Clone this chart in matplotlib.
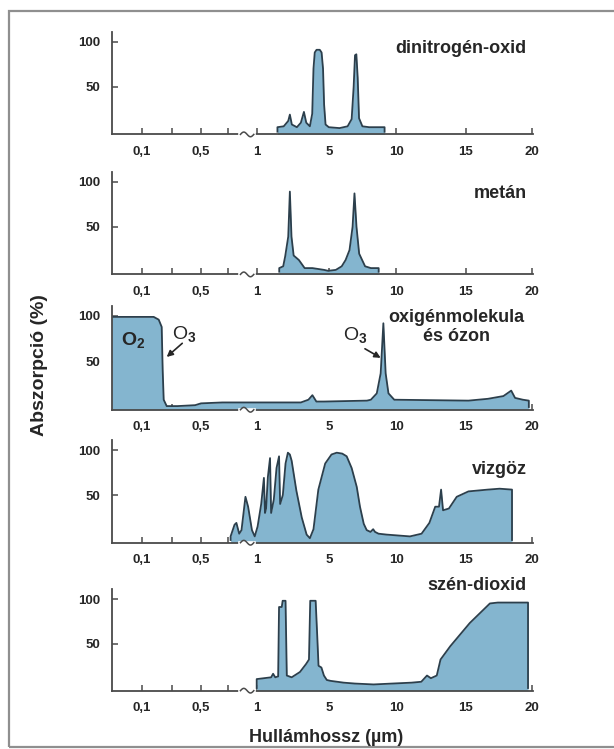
import numpy as np
import matplotlib
matplotlib.use("Agg")
import matplotlib.pyplot as plt
from matplotlib.patches import Rectangle

plt.rcParams['font.family'] = ['Liberation Sans', 'DejaVu Sans']
plt.rcParams['font.weight'] = 'bold'
plt.rcParams['mathtext.fontset'] = 'custom'
plt.rcParams['mathtext.rm'] = 'Liberation Sans'
plt.rcParams['mathtext.it'] = 'Liberation Sans:italic'
plt.rcParams['mathtext.bf'] = 'Liberation Sans:bold'

# ---------------- data ----------------
tick_values = [0.1, 0.25, 0.5, 0.75, 1, 5, 10, 15, 20]
tick_labels = ['0,1', '', '0,5', '', '1', '5', '10', '15', '20']
ytick_values = [50, 100]
ytick_labels = ['50', '100']

n2o_wl = [2.15, 2.15, 2.5, 2.75, 2.84, 2.95, 3.23, 3.45, 3.62, 3.75, 3.95, 4.08, 4.15, 4.22,
          4.32, 4.5, 4.6, 4.68, 4.74, 4.82, 5.0, 5.8, 6.4, 6.7, 6.85, 6.95, 7.05, 7.15, 7.25,
          7.5, 8.0, 9.15, 9.15]
n2o_abs = [0, 5, 6, 12, 19, 8, 5, 10, 22, 10, 6, 20, 70, 88,
           91, 91, 88, 70, 30, 8, 5, 4, 6, 14, 50, 85, 86, 60, 15,
           6, 5, 5, 0]

ch4_wl = [2.25, 2.25, 2.47, 2.58, 2.75, 2.84, 2.93, 3.05, 3.34, 3.66, 4.09, 4.74, 4.96,
          5.52, 5.96, 6.25, 6.54, 6.77, 6.91, 7.06, 7.26, 7.70, 8.13, 8.71, 8.71]
ch4_abs = [0, 4, 6, 17, 39, 89, 39, 18, 13, 4, 4, 2, 1,
           2, 6, 13, 24, 50, 87, 50, 20, 6, 4, 4, 0]

o2o3_wl = [0.05, 0.16, 0.185, 0.2, 0.205, 0.21, 0.225, 0.3, 0.45, 0.5, 0.7, 3.45, 3.87,
           4.09, 4.31, 4.74, 7.84, 8.13, 8.57, 8.86, 9.06, 9.23, 9.44, 9.87, 15.2, 16.67,
           17.84, 18.43, 18.72, 19.31, 19.76, 19.76]
o2o3_abs = [99, 99, 96, 88, 40, 8, 1, 1, 2, 4, 5, 5, 8,
            13, 6, 6, 7, 8, 15, 37, 92, 37, 15, 8, 7, 9,
            12, 18, 10, 8, 7, 0]

h2o_wl = [0.775, 0.775, 0.809, 0.825, 0.849, 0.869, 0.903, 0.926, 0.959, 0.983, 1.05, 1.25,
          1.40, 1.46, 1.52, 1.62, 1.74, 1.80, 1.95, 2.10, 2.24, 2.30, 2.45, 2.60, 2.73,
          2.84, 2.94, 3.2, 3.5, 3.77, 3.95, 4.15, 4.42, 4.8, 5.2, 5.59, 6.0, 6.33, 6.7,
          7.08, 7.32, 7.6, 7.82, 8.1, 8.3, 8.44, 8.7, 9.3, 11.0, 11.83, 12.39, 12.81,
          13.08, 13.23, 13.37, 13.79, 14.35, 15.2, 16.67, 17.55, 18.49, 18.49]
h2o_abs = [0, 4, 17, 19, 7, 11, 48, 37, 11, 4, 15, 40,
           69, 30, 35, 70, 91, 30, 45, 80, 93, 40, 50, 85, 97,
           95, 88, 55, 25, 6, 2, 12, 56, 85, 95, 97, 96, 93, 80,
           59, 37, 18, 11, 9, 12, 9, 7, 6, 4, 7, 19, 37,
           37, 56, 33, 35, 48, 54, 56, 57, 56, 0]

co2_wl = [1.0, 1.0, 1.80, 1.91, 2.03, 2.19, 2.24, 2.39, 2.44, 2.60, 2.67, 2.94, 3.40,
          3.74, 3.90, 3.97, 4.27, 4.36, 4.43, 4.59, 4.73, 4.89, 5.14, 6.11, 6.94, 8.33,
          9.72, 11.11, 11.81, 12.22, 12.5, 12.92, 13.19, 13.89, 15.30, 16.82, 17.42,
          19.7, 19.7]
co2_abs = [0, 10, 12, 16, 12, 13, 91, 91, 98, 98, 14, 12, 18,
           27, 32, 98, 98, 58, 25, 23, 14, 9, 8, 6, 5, 4,
           5, 6, 7, 14, 11, 14, 32, 47, 73, 95, 96,
           96, 0]

panel_titles = ['dinitrogén-oxid', 'metán', 'oxigénmolekula\nés ózon', 'vizgöz', 'szén-dioxid']
series = [(n2o_wl, n2o_abs), (ch4_wl, ch4_abs), (o2o3_wl, o2o3_abs),
          (h2o_wl, h2o_abs), (co2_wl, co2_abs)]

# ---------------- scale (broken, piecewise axis) ----------------
scale_wl = [0.05, 0.1, 0.25, 0.5, 0.75, 1, 5, 10, 15, 20, 21]
scale_pos = [111.7, 141.7, 171.7, 201, 227.7, 256.7, 328.8, 396, 465.8, 532, 545.2]


def fwd(x):
    return np.interp(np.asarray(x, dtype=float), scale_wl, scale_pos)


def inv(p):
    return np.interp(np.asarray(p, dtype=float), scale_pos, scale_wl)


# ---------------- layout ----------------
W, H = 614, 749
LEFT, RIGHT = 111.7, 533
panel_zero = [131.7, 271.7, 407, 540, 688]
panel_full = [41.7, 181.7, 316, 450, 599]
YMIN, YMAX = -3, 111

FILL = '#84b5cf'
EDGE = '#2c3f4c'
AX = '#4a4a4a'
TXT = '#262626'

title_pos = [(19.6, 92, 'right'), (19.6, 87, 'right'), (14.3, 88, 'center'),
             (19.6, 78, 'right'), (19.6, 115, 'right')]

fig = plt.figure(figsize=(W / 100, H / 100), dpi=100)
fig.patch.set_facecolor('white')

xmax = float(inv(RIGHT))

for i, (wl, ab) in enumerate(series):
    z, t = panel_zero[i], panel_full[i]
    s = (z - t) / 100.0
    bottom = z - YMIN * s
    top = z - YMAX * s
    ax = fig.add_axes([LEFT / W, 1 - bottom / H, (RIGHT - LEFT) / W, (bottom - top) / H])
    ax.set_xscale('function', functions=(fwd, inv))
    ax.set_xlim(0.05, xmax)
    ax.set_ylim(YMIN, YMAX)
    ax.patch.set_alpha(0)

    ax.fill_between(wl, ab, YMIN, color=FILL, lw=0, zorder=2)
    ax.plot(wl, ab, color=EDGE, lw=1.3, zorder=3, solid_joinstyle='round')

    for sp in ['top', 'right']:
        ax.spines[sp].set_visible(False)
    for sp in ['left', 'bottom']:
        ax.spines[sp].set_color(AX)
        ax.spines[sp].set_linewidth(1.3)
        ax.spines[sp].set_zorder(4)

    ax.set_xticks(tick_values)
    ax.set_xticklabels(tick_labels)
    ax.set_yticks(ytick_values)
    ax.set_yticklabels(ytick_labels)
    ax.xaxis.set_minor_locator(matplotlib.ticker.NullLocator())
    ax.yaxis.set_minor_locator(matplotlib.ticker.NullLocator())
    ax.tick_params(axis='x', direction='in', length=4, width=1.1, color=AX,
                   labelsize=9.5, labelcolor=TXT, pad=8)
    ax.tick_params(axis='y', direction='in', length=4, width=1.1, color=AX,
                   labelsize=9.5, labelcolor=TXT, pad=8)

    # axis break squiggle between 0.75 and 1
    p0, p1 = fwd(0.86), fwd(0.975)
    tt = np.linspace(0, 1, 40)
    xs = inv(p0 + tt * (p1 - p0))
    ax.plot([0.855, 0.98], [YMIN, YMIN], color='white', lw=2.6, clip_on=False, zorder=6)
    ax.plot(xs, YMIN + 2.6 * np.sin(2 * np.pi * tt), color=AX, lw=1.1,
            clip_on=False, zorder=7)

    tx, ty, ha = title_pos[i]
    ax.text(tx, ty, panel_titles[i], ha=ha, va='center', fontsize=13,
            fontweight='bold', color=TXT, linespacing=1.1, zorder=8)

    if i == 2:
        ax.text(0.0855, 74, r'$\mathbf{O_2}$', ha='center', va='center', fontsize=14,
                color=TXT, zorder=8)
        ax.text(0.36, 80, r'O$_3$', ha='center', va='center', fontsize=14,
                fontweight='normal', color=TXT, zorder=8)
        ax.annotate('', xy=(0.225, 55), xytext=(0.34, 70),
                    arrowprops=dict(arrowstyle='-|>', color=TXT, lw=1.2,
                                    mutation_scale=9, shrinkA=0, shrinkB=0), zorder=8)
        ax.text(6.95, 79, r'O$_3$', ha='center', va='center', fontsize=14,
                fontweight='normal', color=TXT, zorder=8)
        ax.annotate('', xy=(8.86, 54), xytext=(7.69, 64),
                    arrowprops=dict(arrowstyle='-|>', color=TXT, lw=1.2,
                                    mutation_scale=9, shrinkA=0, shrinkB=0), zorder=8)

fig.text(40 / W, 1 - 365 / H, 'Abszorpció (%)', rotation=90, ha='center', va='center',
         fontsize=14, fontweight='bold', color=TXT)
fig.text(326 / W, 1 - 738 / H, 'Hullámhossz (µm)', ha='center', va='center',
         fontsize=13, fontweight='bold', color=TXT)

# outer frame (left, top, bottom edges)
fig.add_artist(Rectangle((9 / W, 1 - 747 / H), 1.2, (747 - 11) / H,
                         transform=fig.transFigure, fill=False,
                         edgecolor='#8f8f8f', lw=1.6, zorder=0))

fig.savefig('out.png', dpi=100, facecolor='white')
